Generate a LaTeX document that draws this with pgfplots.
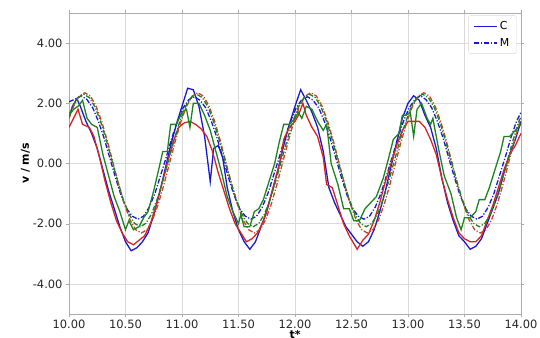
\documentclass[border=0pt]{standalone}
\usepackage{fontspec}
\setmainfont{DejaVu Sans}
\usepackage{pgfplots}
\pgfplotsset{compat=1.18}
\definecolor{cblue}{RGB}{25,25,210}
\definecolor{cred}{RGB}{215,35,35}
\definecolor{cred2}{RGB}{200,70,35}
\definecolor{cgreen}{RGB}{30,130,30}
\begin{document}
\begin{tikzpicture}
\tikzset{dd/.style={dash pattern=on 5pt off 1.8pt on 1.2pt off 1.8pt}, lw/.style={line width=1.3pt}}
\begin{axis}[
  at={(69bp,24bp)}, anchor=south west,
  scale only axis, width=452bp, height=301bp,
  xmin=10, xmax=14, ymin=-5, ymax=5,
  xtick={10,10.5,...,14}, ytick={-4,-2,0,2,4},
  /pgf/number format/assume math mode=true,
  /pgf/number format/fixed, /pgf/number format/fixed zerofill,
  /pgf/number format/precision=2,
  tick label style={font=\fontsize{11.5}{13}\selectfont, text=black!85},
  xticklabel style={yshift=1pt},
  grid=major, grid style={gray!30, line width=0.6pt},
  axis line style={gray!65, line width=0.8pt},
  tick style={gray!65}, tick align=outside, major tick length=3pt,
  xlabel={\textbf{t*}}, ylabel={\textbf{v / m/s}},
  label style={font=\fontsize{11}{13}\selectfont},
  xlabel style={yshift=5pt},
  ylabel style={yshift=-4pt},
  legend style={at={(0.99,0.992)}, anchor=north east, draw=gray!30, rounded corners=2pt, font=\fontsize{11}{13}\selectfont, row sep=3pt, inner xsep=5pt, inner ysep=4pt},
  legend cell align=left,
  legend image code/.code={\draw[#1] (0cm,0cm) -- (0.8cm,0cm);},
]
\addlegendimage{cblue, line width=1.6pt}
\addlegendentry{C}
\addlegendimage{cblue, line width=1.6pt, dd}
\addlegendentry{M}
% C (blue solid)
\addplot[cblue, lw, forget plot] coordinates {(10.00,1.5)(10.03,1.9)(10.07,2.15)(10.10,1.9)(10.15,1.4)(10.20,1.0)(10.25,0.5)(10.30,-0.2)(10.35,-0.9)(10.40,-1.5)(10.45,-2.1)(10.50,-2.6)(10.55,-2.9)(10.60,-2.8)(10.65,-2.6)(10.70,-2.3)(10.75,-1.7)(10.80,-1.0)(10.85,-0.2)(10.90,0.6)(10.95,1.3)(11.00,1.9)(11.05,2.5)(11.10,2.45)(11.15,1.9)(11.20,0.9)(11.25,-0.6)(11.28,0.5)(11.32,0.6)(11.36,0.2)(11.40,-0.8)(11.45,-1.6)(11.50,-2.2)(11.55,-2.6)(11.60,-2.85)(11.65,-2.6)(11.70,-2.1)(11.75,-1.6)(11.80,-0.9)(11.85,-0.2)(11.90,0.6)(11.95,1.3)(12.00,1.9)(12.05,2.45)(12.10,2.1)(12.15,1.7)(12.20,1.2)(12.25,0.4)(12.30,-0.8)(12.35,-1.3)(12.40,-1.7)(12.45,-2.1)(12.50,-2.35)(12.55,-2.6)(12.60,-2.75)(12.65,-2.6)(12.70,-2.2)(12.75,-1.6)(12.80,-0.9)(12.85,-0.1)(12.90,0.7)(12.95,1.5)(13.00,2.0)(13.05,2.25)(13.10,2.1)(13.15,1.6)(13.20,1.2)(13.25,0.5)(13.30,-0.5)(13.35,-1.3)(13.40,-1.9)(13.45,-2.4)(13.50,-2.6)(13.55,-2.85)(13.60,-2.75)(13.65,-2.5)(13.70,-2.0)(13.75,-1.5)(13.80,-1.0)(13.85,-0.3)(13.90,0.3)(13.95,0.8)(14.00,1.4)};
% M (blue dash-dot)
\addplot[cblue, lw, dd, forget plot] coordinates {(10.00,2.05)(10.06,2.15)(10.11,2.25)(10.16,2.12)(10.21,1.85)(10.26,1.40)(10.31,0.85)(10.36,0.20)(10.41,-0.45)(10.46,-1.05)(10.51,-1.50)(10.56,-1.75)(10.61,-1.85)(10.66,-1.75)(10.71,-1.45)(10.76,-1.00)(10.81,-0.40)(10.86,0.20)(10.91,0.85)(10.96,1.40)(11.01,1.85)(11.06,2.12)(11.11,2.22)(11.16,2.10)(11.21,1.85)(11.26,1.40)(11.31,0.85)(11.36,0.20)(11.41,-0.45)(11.46,-1.05)(11.51,-1.50)(11.56,-1.75)(11.61,-1.85)(11.66,-1.75)(11.71,-1.45)(11.76,-1.00)(11.81,-0.40)(11.86,0.20)(11.91,0.85)(11.96,1.40)(12.01,1.85)(12.06,2.12)(12.11,2.22)(12.16,2.10)(12.21,1.85)(12.26,1.40)(12.31,0.85)(12.36,0.20)(12.41,-0.45)(12.46,-1.05)(12.51,-1.50)(12.56,-1.75)(12.61,-1.85)(12.66,-1.75)(12.71,-1.45)(12.76,-1.00)(12.81,-0.40)(12.86,0.20)(12.91,0.85)(12.96,1.40)(13.01,1.85)(13.06,2.12)(13.11,2.25)(13.16,2.12)(13.21,1.85)(13.26,1.40)(13.31,0.85)(13.36,0.20)(13.41,-0.45)(13.46,-1.05)(13.51,-1.50)(13.56,-1.75)(13.61,-1.85)(13.66,-1.75)(13.71,-1.45)(13.76,-1.00)(13.81,-0.40)(13.86,0.20)(13.91,0.85)(13.96,1.40)(14.00,1.70)};
% red solid
\addplot[cred, lw, forget plot] coordinates {(10.00,1.2)(10.04,1.5)(10.08,1.8)(10.12,1.3)(10.18,1.2)(10.22,0.9)(10.27,0.2)(10.32,-0.6)(10.37,-1.3)(10.42,-1.9)(10.47,-2.3)(10.52,-2.6)(10.57,-2.7)(10.62,-2.55)(10.67,-2.4)(10.72,-2.0)(10.77,-1.4)(10.82,-0.7)(10.87,0.0)(10.92,0.7)(10.97,1.2)(11.02,1.35)(11.07,1.4)(11.12,1.3)(11.17,1.15)(11.22,0.9)(11.27,0.4)(11.32,-0.3)(11.37,-0.9)(11.42,-1.5)(11.47,-2.0)(11.52,-2.3)(11.57,-2.6)(11.62,-2.5)(11.67,-2.3)(11.72,-1.9)(11.77,-1.3)(11.82,-0.6)(11.87,0.1)(11.90,0.8)(11.95,1.2)(12.00,1.4)(12.03,1.6)(12.07,2.0)(12.10,1.6)(12.15,1.2)(12.20,0.9)(12.25,0.2)(12.28,-0.7)(12.33,-0.8)(12.38,-1.4)(12.43,-2.0)(12.48,-2.4)(12.55,-2.85)(12.60,-2.55)(12.65,-2.35)(12.70,-1.9)(12.75,-1.3)(12.80,-0.6)(12.85,0.0)(12.90,0.6)(12.95,1.1)(13.00,1.4)(13.05,1.4)(13.10,1.4)(13.15,1.2)(13.20,0.8)(13.25,0.3)(13.30,-0.5)(13.35,-1.2)(13.40,-1.8)(13.45,-2.3)(13.50,-2.5)(13.55,-2.6)(13.60,-2.6)(13.65,-2.4)(13.70,-1.9)(13.75,-1.4)(13.80,-0.8)(13.85,-0.2)(13.90,0.3)(13.95,0.6)(14.00,1.0)};
% red dash-dot
\addplot[cred2, lw, dd, forget plot] coordinates {(10.00,1.50)(10.04,1.90)(10.09,2.24)(10.14,2.35)(10.19,2.24)(10.24,1.90)(10.29,1.39)(10.34,0.74)(10.39,0.02)(10.44,-0.70)(10.49,-1.35)(10.54,-1.87)(10.59,-2.20)(10.64,-2.31)(10.69,-2.20)(10.74,-1.87)(10.79,-1.35)(10.84,-0.70)(10.89,0.02)(10.94,0.74)(10.99,1.39)(11.04,1.90)(11.09,2.24)(11.14,2.35)(11.19,2.24)(11.24,1.90)(11.29,1.39)(11.34,0.74)(11.39,0.02)(11.44,-0.70)(11.49,-1.35)(11.54,-1.87)(11.59,-2.20)(11.64,-2.31)(11.69,-2.20)(11.74,-1.87)(11.79,-1.35)(11.84,-0.70)(11.89,0.02)(11.94,0.74)(11.99,1.39)(12.04,1.90)(12.09,2.24)(12.14,2.35)(12.19,2.24)(12.24,1.90)(12.29,1.39)(12.34,0.74)(12.39,0.02)(12.44,-0.70)(12.49,-1.35)(12.54,-1.87)(12.59,-2.20)(12.64,-2.31)(12.69,-2.20)(12.74,-1.87)(12.79,-1.35)(12.84,-0.70)(12.89,0.02)(12.94,0.74)(12.99,1.39)(13.04,1.90)(13.09,2.24)(13.14,2.35)(13.19,2.24)(13.24,1.90)(13.29,1.39)(13.34,0.74)(13.39,0.02)(13.44,-0.70)(13.49,-1.35)(13.54,-1.87)(13.59,-2.20)(13.64,-2.31)(13.69,-2.20)(13.74,-1.87)(13.79,-1.35)(13.84,-0.70)(13.89,0.02)(13.94,0.74)(13.99,1.39)(14.00,1.50)};
% green solid
\addplot[cgreen, lw, forget plot] coordinates {(10.00,1.6)(10.04,1.8)(10.08,1.9)(10.12,2.1)(10.16,1.5)(10.20,1.3)(10.25,1.2)(10.30,0.3)(10.35,-0.4)(10.40,-1.1)(10.45,-1.6)(10.50,-2.2)(10.53,-1.9)(10.57,-2.2)(10.62,-2.1)(10.66,-1.8)(10.70,-1.6)(10.75,-0.9)(10.80,-0.1)(10.83,0.4)(10.87,0.4)(10.90,1.3)(10.95,1.3)(11.00,1.7)(11.04,1.8)(11.07,1.2)(11.10,2.0)(11.15,2.0)(11.20,1.6)(11.25,1.1)(11.30,0.4)(11.35,-0.3)(11.40,-1.1)(11.45,-1.6)(11.50,-2.0)(11.52,-1.7)(11.55,-2.1)(11.60,-2.1)(11.64,-1.6)(11.68,-1.5)(11.72,-1.2)(11.77,-0.6)(11.82,0.0)(11.86,0.7)(11.90,1.3)(11.95,1.3)(12.00,1.5)(12.03,1.7)(12.06,1.5)(12.10,1.9)(12.15,1.8)(12.20,1.4)(12.25,1.1)(12.28,1.3)(12.32,0.0)(12.38,-0.7)(12.43,-1.5)(12.48,-1.5)(12.52,-1.9)(12.57,-1.9)(12.62,-1.5)(12.67,-1.3)(12.72,-1.1)(12.78,-0.5)(12.83,0.2)(12.87,0.8)(12.92,1.0)(12.95,1.6)(12.98,1.6)(13.02,1.7)(13.05,0.9)(13.08,1.8)(13.12,2.0)(13.17,1.5)(13.20,1.3)(13.22,1.5)(13.27,0.5)(13.32,-0.4)(13.38,-1.0)(13.43,-1.8)(13.47,-2.2)(13.50,-1.8)(13.55,-1.8)(13.60,-1.6)(13.63,-1.2)(13.68,-1.2)(13.72,-0.8)(13.77,-0.2)(13.82,0.4)(13.85,0.9)(13.90,0.9)(13.95,1.1)(14.00,1.3)};
% green dash-dot
\addplot[cgreen, lw, dd, forget plot] coordinates {(10.00,1.60)(10.03,1.88)(10.08,2.19)(10.13,2.30)(10.18,2.19)(10.23,1.88)(10.28,1.39)(10.33,0.78)(10.38,0.10)(10.43,-0.58)(10.48,-1.19)(10.53,-1.68)(10.58,-1.99)(10.63,-2.10)(10.68,-1.99)(10.73,-1.68)(10.78,-1.19)(10.83,-0.58)(10.88,0.10)(10.93,0.78)(10.98,1.39)(11.03,1.88)(11.08,2.19)(11.13,2.30)(11.18,2.19)(11.23,1.88)(11.28,1.39)(11.33,0.78)(11.38,0.10)(11.43,-0.58)(11.48,-1.19)(11.53,-1.68)(11.58,-1.99)(11.63,-2.10)(11.68,-1.99)(11.73,-1.68)(11.78,-1.19)(11.83,-0.58)(11.88,0.10)(11.93,0.78)(11.98,1.39)(12.03,1.88)(12.08,2.19)(12.13,2.30)(12.18,2.19)(12.23,1.88)(12.28,1.39)(12.33,0.78)(12.38,0.10)(12.43,-0.58)(12.48,-1.19)(12.53,-1.68)(12.58,-1.99)(12.63,-2.10)(12.68,-1.99)(12.73,-1.68)(12.78,-1.19)(12.83,-0.58)(12.88,0.10)(12.93,0.78)(12.98,1.39)(13.03,1.88)(13.08,2.19)(13.13,2.30)(13.18,2.19)(13.23,1.88)(13.28,1.39)(13.33,0.78)(13.38,0.10)(13.43,-0.58)(13.48,-1.19)(13.53,-1.68)(13.58,-1.99)(13.63,-2.10)(13.68,-1.99)(13.73,-1.68)(13.78,-1.19)(13.83,-0.58)(13.88,0.10)(13.93,0.78)(13.98,1.39)(14.00,1.55)};
\end{axis}
\pgfresetboundingbox
\path[use as bounding box] (0,0) rectangle (540bp,338bp);
\end{tikzpicture}
\end{document}
